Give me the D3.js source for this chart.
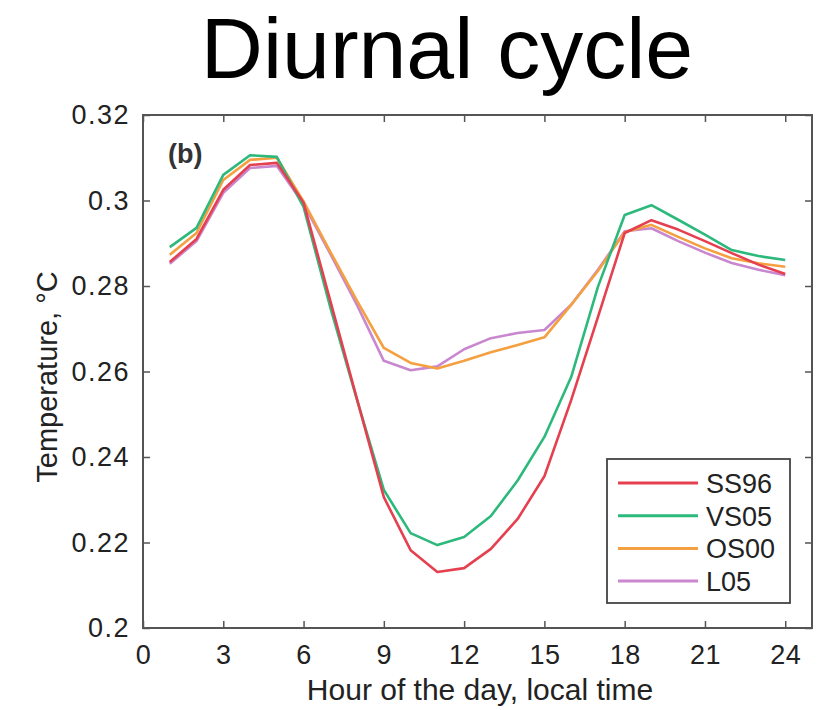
<!DOCTYPE html>
<html>
<head>
<meta charset="utf-8">
<script src="https://cdn.jsdelivr.net/npm/d3@7"></script>
<style>
  body { margin: 0; background: #fff; }
  text { font-family: "Liberation Sans", Arial, sans-serif; fill: #222; }
</style>
</head>
<body>
<div id="viz"></div>
<script>
// data
let hours = [1,2,3,4,5,6,7,8,9,10,11,12,13,14,15,16,17,18,19,20,21,22,23,24];
let ss96 = [0.2856,0.2910,0.3025,0.3083,0.3088,0.2995,0.2765,0.2535,0.2306,0.2182,0.2131,0.2140,0.2185,0.2255,0.2355,0.2533,0.2727,0.2924,0.2954,0.2932,0.2905,0.2877,0.2850,0.2828];
let vs05 = [0.2891,0.2936,0.3060,0.3106,0.3102,0.2985,0.2750,0.2533,0.2323,0.2222,0.2194,0.2213,0.2262,0.2345,0.2447,0.2587,0.2798,0.2966,0.2989,0.2955,0.2920,0.2884,0.2870,0.2861];
let os00 = [0.2873,0.2924,0.3048,0.3095,0.3100,0.2998,0.2880,0.2765,0.2655,0.2620,0.2607,0.2625,0.2645,0.2662,0.2680,0.2756,0.2835,0.2926,0.2943,0.2915,0.2888,0.2865,0.2853,0.2845];
let l05  = [0.2852,0.2905,0.3018,0.3076,0.3081,0.2992,0.2875,0.2755,0.2625,0.2603,0.2612,0.2652,0.2678,0.2690,0.2697,0.2756,0.2838,0.2928,0.2935,0.2905,0.2878,0.2854,0.2838,0.2825];
let seriesNames = ["SS96","VS05","OS00","L05"];
let seriesColors = ["#e5404f","#2db97c","#f4a040","#c987cf"];
let xTicks = [0,3,6,9,12,15,18,21,24];
let yTicks = [0.2,0.22,0.24,0.26,0.28,0.3,0.32];

let w = 830;
let h = 710;
let padL = 143, padR = 812, padT = 115, padB = 628;

let viz = d3.select("#viz")
  .append("svg")
    .attr("width", w)
    .attr("height", h);

let xScale = d3.scaleLinear().domain([0,25]).range([padL,padR]);
let yScale = d3.scaleLinear().domain([0.2,0.32]).range([padB,padT]);

// title
viz.append("text")
  .attr("x", 447).attr("y", 78)
  .attr("text-anchor","middle")
  .style("font-size","86px")
  .style("fill","#000")
  .text("Diurnal cycle");

// axes (ticks inward, mirrored on all sides)
let axisColor = "#555";
function styleAxis(g){
  g.select(".domain").remove();
  g.selectAll(".tick line").attr("stroke", axisColor).attr("stroke-width",1.5);
  g.selectAll(".tick text").style("font-size","27px").style("letter-spacing","0.5px").style("fill","#222");
}

viz.append("g")
  .attr("transform","translate(0,"+padB+")")
  .call(d3.axisBottom(xScale).tickValues(xTicks).tickSizeInner(-7).tickPadding(17).tickFormat(d3.format("d")))
  .call(styleAxis);
viz.append("g")
  .attr("transform","translate(0,"+padT+")")
  .call(d3.axisTop(xScale).tickValues(xTicks).tickSizeInner(-7).tickFormat(""))
  .call(styleAxis);
viz.append("g")
  .attr("transform","translate("+padL+",0)")
  .call(d3.axisLeft(yScale).tickValues(yTicks).tickSizeInner(-7).tickPadding(13).tickFormat(d => String(+d.toFixed(2))))
  .call(styleAxis)
  .selectAll(".tick text").style("letter-spacing","1.5px");
viz.append("g")
  .attr("transform","translate("+padR+",0)")
  .call(d3.axisRight(yScale).tickValues(yTicks).tickSizeInner(-7).tickFormat(""))
  .call(styleAxis);

viz.append("rect")
  .attr("x", padL).attr("y", padT)
  .attr("width", padR-padL).attr("height", padB-padT)
  .attr("fill","none").attr("stroke", axisColor).attr("stroke-width",2);

// lines
let allSeries = [ss96, vs05, os00, l05];
let lineMaker = d3.line()
  .x(function(d,i){ return xScale(hours[i]); })
  .y(function(d){ return yScale(d); });

// draw in reverse so SS96 sits on top like the original
for (let k = allSeries.length-1; k >= 0; k--){
  viz.append("path")
    .datum(allSeries[k])
    .attr("d", lineMaker)
    .attr("fill","none")
    .attr("stroke", seriesColors[k])
    .attr("stroke-width", 2.6)
    .attr("stroke-linejoin","round");
}

// panel label
viz.append("text")
  .attr("x", 168).attr("y", 163)
  .style("font-size","27px")
  .style("font-weight","bold")
  .style("fill","#333")
  .text("(b)");

// legend
let legend = viz.append("g");
legend.append("rect")
  .attr("x", 607).attr("y", 459)
  .attr("width", 183).attr("height", 144)
  .attr("fill","#fff").attr("stroke","#444").attr("stroke-width",1.8);
seriesNames.forEach(function(name,i){
  let yy = 483 + i*32.7;
  legend.append("line")
    .attr("x1", 618).attr("x2", 698)
    .attr("y1", yy).attr("y2", yy)
    .attr("stroke", seriesColors[i]).attr("stroke-width", 3);
  legend.append("text")
    .attr("x", 706).attr("y", yy + 10)
    .style("font-size","27px")
    .text(name);
});

// axis labels
viz.append("text")
  .attr("x", 480).attr("y", 700)
  .attr("text-anchor","middle")
  .style("font-size","30px")
  .text("Hour of the day, local time");

viz.append("text")
  .attr("transform","translate(57,377) rotate(-90)")
  .attr("text-anchor","middle")
  .style("font-size","29px")
  .text("Temperature, \u00B0C");
</script>
</body>
</html>
